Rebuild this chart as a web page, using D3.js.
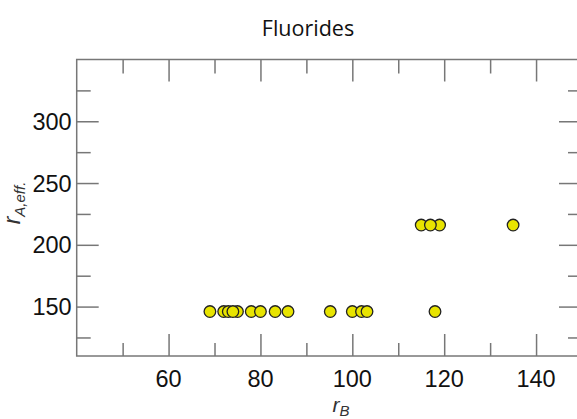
<!DOCTYPE html>
<html><head><meta charset="utf-8">
<script src="https://cdn.jsdelivr.net/npm/d3@7"></script>
<style>body{margin:0;background:#fff;} svg{display:block;}</style>
</head><body>
<svg id="c" width="577" height="419"></svg>
<script>
const title = "Fluorides";
const rB   = [69, 72, 73, 75, 74, 78, 80, 83.2, 86, 95.2, 100, 102, 103.2, 118, 115, 119, 117, 135];
const rAeff= [146,146,146,146,146,146,146,146, 146,146, 146, 146, 146,  146, 216, 216, 216, 216];
const xDomain = [40, 150];
const yDomain = [110, 350];
const xMajor = [60, 80, 100, 120, 140];
const xMinor = [50, 70, 90, 110, 130];
const yMajor = [150, 200, 250, 300];
const yMinor = [125, 175, 225, 275, 325];

const svg = d3.select("#c");
const L = 76.7, R = 582, T = 59.5, B = 356;
const x = d3.scaleLinear().domain(xDomain).range([L, R]);
const y = d3.scaleLinear().domain(yDomain).range([B, T]);
const axisColor = "#777";
const font = "'Liberation Sans', Arial, sans-serif";

// frame
svg.append("rect").attr("x", L).attr("y", T).attr("width", R - L).attr("height", B - T)
  .attr("fill", "none").attr("stroke", axisColor).attr("stroke-width", 1.5);

function tickAxis(axisGen, tx, ty, len) {
  const g = svg.append("g").attr("transform", `translate(${tx},${ty})`)
    .call(axisGen.tickSize(len).tickFormat(""));
  g.select(".domain").remove();
  g.selectAll("line").attr("stroke", axisColor).attr("stroke-width", 1.5);
  g.selectAll("text").remove();
}
// inward ticks (negative size -> inward)
tickAxis(d3.axisBottom(x).tickValues(xMajor), 0, B, -22);
tickAxis(d3.axisBottom(x).tickValues(xMinor), 0, B, -13);
tickAxis(d3.axisTop(x).tickValues(xMajor), 0, T, -22);
tickAxis(d3.axisTop(x).tickValues(xMinor), 0, T, -14);
tickAxis(d3.axisLeft(y).tickValues(yMajor), L, 0, -22);
tickAxis(d3.axisLeft(y).tickValues(yMinor), L, 0, -14);
tickAxis(d3.axisRight(y).tickValues(yMajor), R, 0, -23);
tickAxis(d3.axisRight(y).tickValues(yMinor), R, 0, -14);

// tick labels
svg.append("g").selectAll("text").data(xMajor).join("text")
  .attr("x", d => x(d)).attr("y", B + 30.5).attr("text-anchor", "middle")
  .attr("font-family", font).attr("font-size", 23.5).attr("fill", "#111").text(d => d);
svg.append("g").selectAll("text").data(yMajor).join("text")
  .attr("x", L - 5).attr("y", d => y(d)).attr("dy", "0.36em").attr("text-anchor", "end")
  .attr("font-family", font).attr("font-size", 23.5).attr("fill", "#111").text(d => d);

// title
svg.append("text").attr("x", 308).attr("y", 36).attr("text-anchor", "middle")
  .attr("font-family", "'Open Sans', 'Noto Sans', sans-serif").attr("font-size", 21.5).attr("fill", "#111")
  .text(title);

// x label
const xl = svg.append("text").attr("x", 341).attr("y", 412).attr("text-anchor", "middle")
  .attr("font-family", font).attr("font-size", 21).attr("fill", "#333");
xl.append("tspan").attr("font-style", "italic").text("r");
xl.append("tspan").attr("font-style", "italic").attr("font-size", 15).attr("dy", 3.5).text("B");

// y label
const yl = svg.append("text").attr("transform", "translate(20,203) rotate(-90)").attr("text-anchor", "middle")
  .attr("font-family", font).attr("font-size", 23).attr("fill", "#333");
yl.append("tspan").attr("font-style", "italic").text("r");
yl.append("tspan").attr("font-style", "italic").attr("font-size", 15).attr("dy", 5).text("A,eff.");

// points
svg.append("g").selectAll("circle").data(rB.map((d, i) => [d, rAeff[i]])).join("circle")
  .attr("cx", d => x(d[0])).attr("cy", d => y(d[1])).attr("r", 5.8)
  .attr("fill", "#e8e400").attr("stroke", "#222").attr("stroke-width", 1.3);
</script>
</body></html>
